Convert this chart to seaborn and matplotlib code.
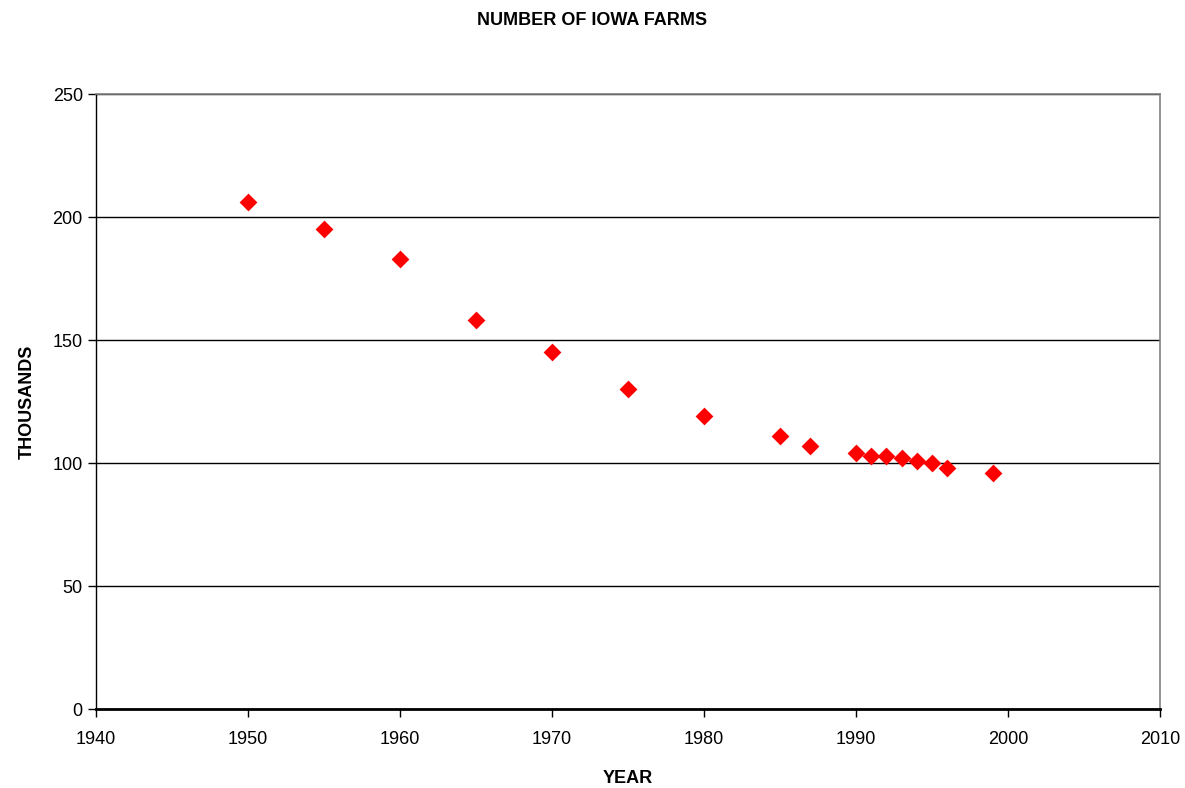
import matplotlib
matplotlib.use("Agg")
import matplotlib.pyplot as plt
import pandas as pd
import seaborn as sns

years = [1950, 1955, 1960, 1965, 1970, 1975, 1980, 1985, 1987,
         1990, 1991, 1992, 1993, 1994, 1995, 1996, 1999]
farms_thousands = [206, 195, 183, 158, 145, 130, 119, 111, 107,
                   104, 103, 103, 102, 101, 100, 98, 96]
x_ticks = [1940, 1950, 1960, 1970, 1980, 1990, 2000, 2010]
y_ticks = [0, 50, 100, 150, 200, 250]

df = pd.DataFrame({"year": years, "farms": farms_thousands})

sns.set_style("white")
plt.rcParams["font.family"] = ["Liberation Sans", "DejaVu Sans"]
plt.rcParams["text.color"] = "black"
plt.rcParams["axes.labelcolor"] = "black"
plt.rcParams["xtick.color"] = "black"
plt.rcParams["ytick.color"] = "black"

fig = plt.figure(figsize=(11.85, 7.88), dpi=100)
ax = fig.add_axes([0.081, 0.1002, 0.898, 0.7805])

sns.scatterplot(data=df, x="year", y="farms", marker="D", s=82,
                color="#ff0000", edgecolor="#ff0000", linewidth=0, ax=ax, zorder=3)

ax.set_xlim(1940, 2010)
ax.set_ylim(0, 250)
ax.set_xticks(x_ticks)
ax.set_yticks(y_ticks)
ax.yaxis.grid(True, color="black", linewidth=1)
ax.set_axisbelow(True)

for side in ["top", "right"]:
    ax.spines[side].set_color("#808080")
    ax.spines[side].set_linewidth(1.2)
ax.spines["left"].set_color("black")
ax.spines["left"].set_linewidth(1)
ax.spines["bottom"].set_color("black")
ax.spines["bottom"].set_linewidth(2)

ax.tick_params(axis="both", direction="out", length=6, width=1,
               labelsize=13, color="black", labelcolor="black",
               bottom=True, left=True)
ax.tick_params(axis="x", pad=10)

ax.set_xlabel("YEAR", fontsize=13, fontweight="bold", labelpad=16, color="black")
ax.set_ylabel("THOUSANDS", fontsize=13, fontweight="bold", labelpad=12, color="black")
fig.suptitle("NUMBER OF IOWA FARMS", fontsize=13, fontweight="bold", y=0.985, color="black")

fig.savefig("out.png", dpi=100)
plt.close(fig)
